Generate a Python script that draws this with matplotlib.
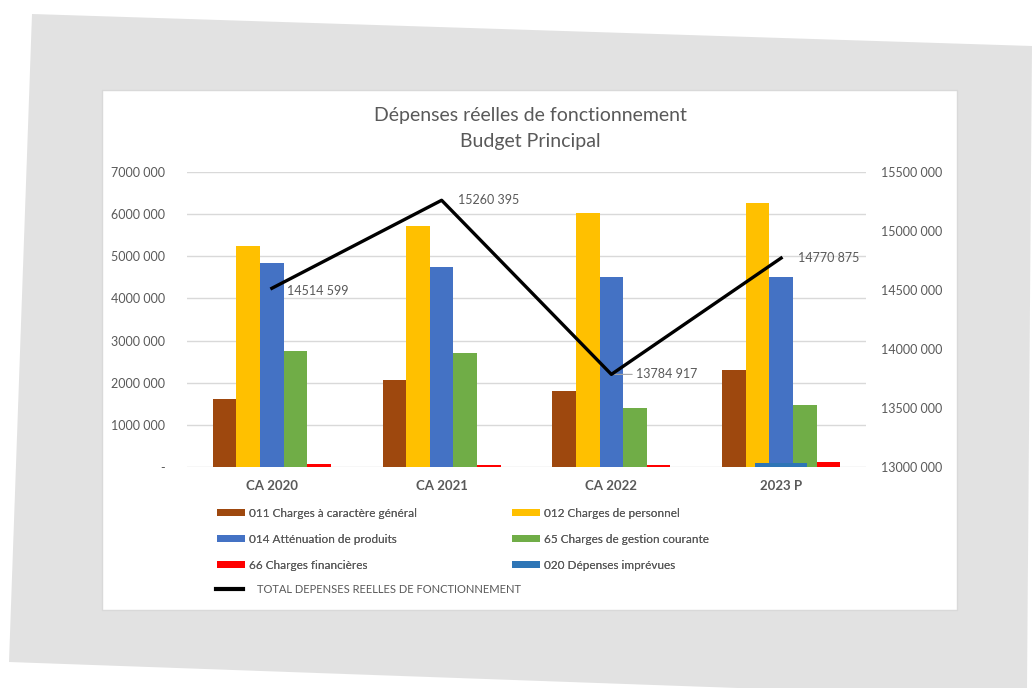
import numpy as np
import matplotlib.pyplot as plt
from matplotlib.patches import Polygon, Rectangle
from matplotlib.lines import Line2D

plt.rcParams['font.family'] = ['Lato', 'DejaVu Sans']

categories = ["CA 2020", "CA 2021", "CA 2022", "2023 P"]
c011 = [1610000, 2060000, 1810000, 2300000]
c012 = [5240000, 5710000, 6020000, 6260000]
c014 = [4830000, 4740000, 4510000, 4510000]
c65 = [2760000, 2700000, 1390000, 1480000]
c66 = [64000, 55000, 47000, 126000]
c020 = [0, 0, 0, 85000]
total = [14514599, 15260395, 13784917, 14770875]
total_labels = ["14514 599", "15260 395", "13784 917", "14770 875"]

left_ticks = [0, 1000000, 2000000, 3000000, 4000000, 5000000, 6000000, 7000000]
left_labels = ["-", "1000 000", "2000 000", "3000 000", "4000 000", "5000 000", "6000 000", "7000 000"]
right_ticks = [13000000, 13500000, 14000000, 14500000, 15000000, 15500000]
right_labels = ["13000 000", "13500 000", "14000 000", "14500 000", "15000 000", "15500 000"]

names = ["011 Charges à caractère général", "012 Charges de personnel",
         "014 Atténuation de produits", "65 Charges de gestion courante",
         "66 Charges financières", "020 Dépenses imprévues",
         "TOTAL DEPENSES REELLES DE FONCTIONNEMENT"]
colors = ["#9E480E", "#FFC000", "#4472C4", "#70AD47", "#FF0000", "#2E75B6"]
grey_txt = "#595959"

W, H = 1032, 688
fig = plt.figure(figsize=(W / 100, H / 100), dpi=100)

def fx(px):
    return px / W

def fy(py):
    return 1 - py / H

# skewed grey backdrop and white chart box
bg = [(32, 14), (1032, 46), (1027, 688), (738, 688), (9, 662)]
fig.patches.append(Polygon([(fx(a), fy(b)) for a, b in bg], closed=True,
                           transform=fig.transFigure, fc="#E2E2E2", ec="none", zorder=0))
fig.patches.append(Rectangle((fx(102), fy(610)), fx(957) - fx(102), fy(90) - fy(610),
                             transform=fig.transFigure, fc="white", ec="#D9D9D9", lw=1, zorder=1))

ax = fig.add_axes([fx(187), fy(467), fx(866) - fx(187), fy(172) - fy(467)])
ax.set_zorder(2)
ax.patch.set_alpha(0)
x = np.arange(len(categories))
bw = 0.139
series = [c011, c012, c014, c65, c66]
for i, s in enumerate(series):
    ax.bar(x + (i - 2) * bw, s, width=bw, color=colors[i], zorder=3)
ax.bar(x, c020, width=0.31, color=colors[5], zorder=4)

ax.set_xlim(-0.5, 3.5)
ax.set_ylim(0, 7000000)
ax.set_yticks(left_ticks)
ax.set_yticklabels(left_labels)
ax.set_xticks(x)
ax.set_xticklabels(categories, fontweight="bold")
ax.grid(axis="y", color="#D9D9D9", lw=1)
ax.set_axisbelow(True)
for sp in ax.spines.values():
    sp.set_visible(False)
ax.tick_params(axis="y", length=0, pad=16, labelsize=9, labelcolor=grey_txt)
ax.tick_params(axis="x", length=0, pad=9, labelsize=9.5, labelcolor=grey_txt)

ax2 = ax.twinx()
ax2.set_ylim(13000000, 15500000)
ax2.set_yticks(right_ticks)
ax2.set_yticklabels(right_labels)
ax2.tick_params(axis="y", length=0, pad=11, labelsize=9, labelcolor=grey_txt)
for sp in ax2.spines.values():
    sp.set_visible(False)
ax2.plot(x, total, color="black", lw=2.4, zorder=5)

offsets = [(11, -2), (12, 0), (18, 0), (12, 0)]
for i, (v, lab) in enumerate(zip(total, total_labels)):
    ax2.annotate(lab, (x[i], v), xytext=offsets[i], textcoords="offset points",
                 ha="left", va="center", fontsize=9, color=grey_txt)
# leader line for the 2022 label
ax2.annotate("", (x[2], total[2]), xytext=(17, 0), textcoords="offset points",
             arrowprops=dict(arrowstyle="-", color="#A6A6A6", lw=0.8))

# title
fig.text(fx(530), fy(115), "Dépenses réelles de fonctionnement", ha="center", va="center",
         fontsize=14, color=grey_txt)
fig.text(fx(530), fy(141), "Budget Principal", ha="center", va="center",
         fontsize=14, color=grey_txt)

# legend in two columns
def patch(c):
    return Rectangle((0, 0), 1, 1, fc=c, ec="none")

h1 = [patch(colors[0]), patch(colors[2]), patch(colors[4])]
l1 = [names[0], names[2], names[4]]
h2 = [patch(colors[1]), patch(colors[3]), patch(colors[5])]
l2 = [names[1], names[3], names[5]]
kw = dict(frameon=False, fontsize=8.5, labelcolor=grey_txt, handlelength=2.4,
          handleheight=0.5, handletextpad=0.3, labelspacing=1.25, borderpad=0,
          borderaxespad=0, loc="upper left")
leg1 = fig.legend(h1, l1, bbox_to_anchor=(fx(217), fy(508)), **kw)
fig.add_artist(leg1)
leg2 = fig.legend(h2, l2, bbox_to_anchor=(fx(512), fy(508)), **kw)
fig.add_artist(leg2)
kw3 = dict(kw, fontsize=8, handletextpad=1.3)
fig.legend([Line2D([], [], color="black", lw=3)], [names[6]],
           bbox_to_anchor=(fx(216), fy(584)), **kw3)

fig.savefig("out.png", dpi=100)
